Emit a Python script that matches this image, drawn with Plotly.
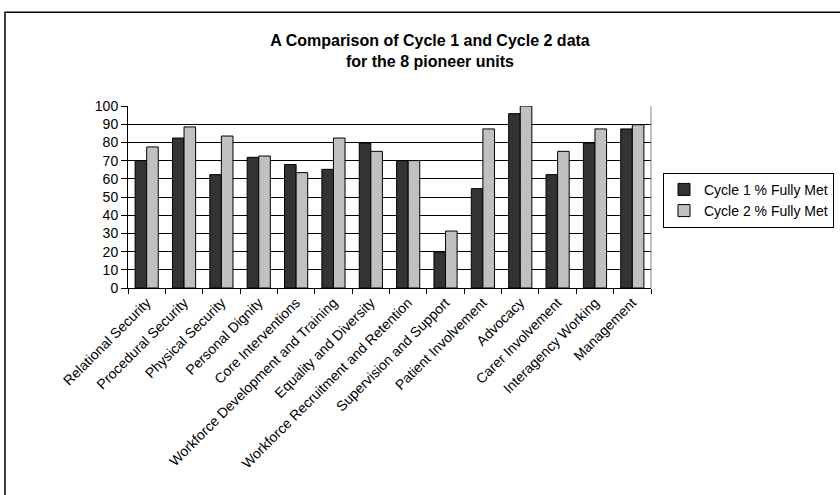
import plotly.graph_objects as go

categories = ["Relational Security", "Procedural Security", "Physical Security",
              "Personal Dignity", "Core Interventions",
              "Workforce Development and Training", "Equality and Diversity",
              "Workforce Recruitment and Retention", "Supervision and Support",
              "Patient Involvement", "Advocacy", "Carer Involvement",
              "Interagency Working", "Management"]
cycle1 = [70, 82.4, 62.3, 71.8, 67.8, 65.2, 79.7, 70, 19.8, 54.6, 95.8, 62.3, 79.7, 87.4]
cycle2 = [77.5, 88.5, 83.5, 72.5, 63.4, 82.4, 75.1, 70, 31.3, 87.4, 100, 75.1, 87.4, 89.7]
series_names = ["Cycle 1 % Fully Met", "Cycle 2 % Fully Met"]
y_ticks = list(range(0, 101, 10))

W, H = 840, 495
L, R, T, B = 128, 651, 105.7, 287.7

def px(x):
    return (x - L) / (R - L)

def py(y):
    return (B - y) / (B - T)

fig = go.Figure()
fig.add_trace(go.Bar(x=categories, y=cycle1, name=series_names[0],
                     marker=dict(color="#333333", line=dict(color="#000000", width=1))))
fig.add_trace(go.Bar(x=categories, y=cycle2, name=series_names[1],
                     marker=dict(color="#c0c0c0", line=dict(color="#000000", width=1))))

font = "Liberation Sans, Arial, sans-serif"

fig.update_layout(
    width=W, height=H,
    margin=dict(l=L, r=W - R, t=T, b=H - B, autoexpand=False),
    paper_bgcolor="white", plot_bgcolor="white",
    barmode="group", bargap=0.38, bargroupgap=0,
    font=dict(family=font, size=14, color="black"),
    title=dict(text="<b>A Comparison of Cycle 1 and Cycle 2 data<br>for the 8 pioneer units</b>",
               x=px(430), xanchor="center", xref="paper",
               y=1 - 46 / H, yanchor="top",
               font=dict(family=font, size=16, color="black")),
    showlegend=True,
    legend=dict(x=px(663), xanchor="left", y=py(172.5), yanchor="top",
                bordercolor="black", borderwidth=1, bgcolor="white",
                font=dict(family=font, size=14, color="black"),
                tracegroupgap=0, itemwidth=30),
    xaxis=dict(type="category", tickson="boundaries", ticks="outside", ticklen=5,
               tickcolor="black", showline=True, linecolor="black", linewidth=1,
               showgrid=False, tickangle=-45, tickfont=dict(size=14)),
    yaxis=dict(range=[0, 100], tickvals=y_ticks, ticks="outside", ticklen=6,
               tickcolor="black", showline=True, linecolor="black", linewidth=1,
               showgrid=True, gridcolor="black", gridwidth=1, zeroline=False,
               tickfont=dict(size=14)),
)

# plot-area right border (gray)
fig.add_shape(type="line", xref="paper", yref="paper", x0=1, x1=1, y0=0, y1=1,
              line=dict(color="#808080", width=1))
# outer chart border
fig.add_shape(type="rect", xref="paper", yref="paper",
              x0=px(5), x1=px(870), y0=py(530), y1=py(12),
              line=dict(color="black", width=1.5), fillcolor="rgba(0,0,0,0)", layer="below")

fig.write_html("out.html", config={"displayModeBar": False},
               post_script="document.body.style.margin='0';")
